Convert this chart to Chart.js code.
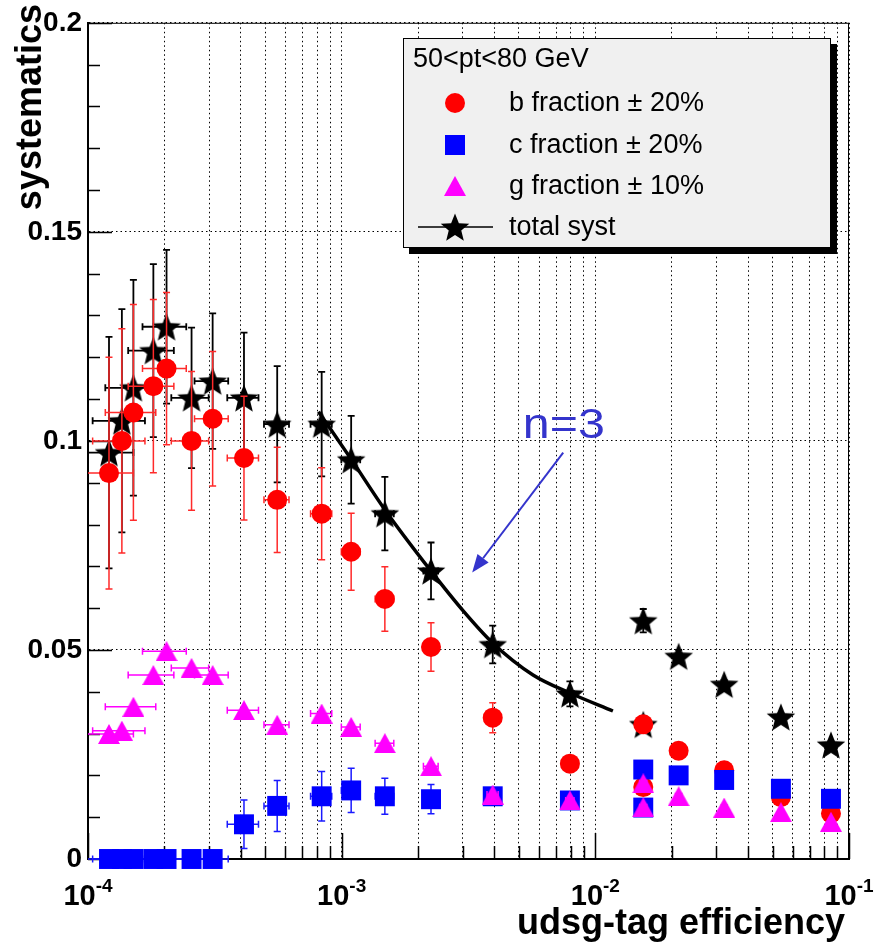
<!DOCTYPE html>
<html>
<head>
<meta charset="utf-8">
<script src="https://cdn.jsdelivr.net/npm/chart.js@4.4.0/dist/chart.umd.min.js"></script>
<style>
  html, body { margin: 0; padding: 0; background: #fff; }
  #wrap { width: 876px; height: 946px; }
</style>
</head>
<body>
<div id="wrap"><canvas id="systChart" width="876" height="946"></canvas></div>
<script>
// udsg-tag efficiency bins: centres and half widths
const effX    = [1.21e-4, 1.36e-4, 1.51e-4, 1.81e-4, 2.04e-4, 2.56e-4, 3.10e-4, 4.12e-4, 5.57e-4, 8.34e-4,
                 1.09e-3, 1.48e-3, 2.25e-3, 3.94e-3, 7.94e-3, 1.545e-2, 1.545e-2, 2.13e-2, 3.22e-2, 5.39e-2, 8.49e-2];
const effXErr = [0.30e-4, 0.317e-4, 0.34e-4, 0.37e-4, 0.40e-4, 0.43e-4, 0.47e-4, 0.58e-4, 0.63e-4, 0.80e-4,
                 0.93e-4, 1.25e-4, 1.5e-4, 2e-4, 3e-4, 5e-4, 5e-4, 6e-4, 8e-4, 1e-3, 1.5e-3];

// b fraction +-20%
const bFracSyst = [0.0923, 0.1000, 0.1068, 0.1131, 0.1173, 0.1000, 0.1053, 0.0959, 0.0859, 0.0826,
                   0.0735, 0.0622, 0.0507, 0.0338, 0.0228, 0.0322, 0.0172, 0.0259, 0.0212, 0.0148, 0.0109];
const bFracErr  = [0.0277, 0.0268, 0.0258, 0.0207, 0.0182, 0.0166, 0.0161, 0.0148, 0.0126, 0.0110,
                   0.0092, 0.0077, 0.0058, 0.0036, 0.0010, 0.0008, 0.0008, 0.0008, 0.0006, 0.0005, 0.0005];

// c fraction +-20%
const cFracSyst = [0, 0, 0, 0, 0, 0, 0, 0.0083, 0.0127, 0.0150,
                   0.0164, 0.0150, 0.0143, 0.0150, 0.0140, 0.0214, 0.0123, 0.0200, 0.0189, 0.0168, 0.0144];
const cFracErr  = [0, 0, 0, 0, 0, 0, 0, 0.0058, 0.0061, 0.0059,
                   0.0053, 0.0043, 0.0035, 0.0015, 0.0008, 0.0008, 0.0006, 0.0006, 0.0005, 0.0005, 0.0004];

// g fraction +-10%
const gFracSyst = [0.0299, 0.0307, 0.0364, 0.0440, 0.0497, 0.0457, 0.0440, 0.0356, 0.0321, 0.0348,
                   0.0316, 0.0277, 0.0222, 0.0154, 0.0140, 0.0181, 0.0124, 0.0150, 0.0123, 0.0112, 0.0089];

// total systematics
const totalSyst = [0.0972, 0.1048, 0.1127, 0.1216, 0.1273, 0.1103, 0.1143, 0.1103, 0.1040, 0.1040,
                   0.0955, 0.0826, 0.0689, 0.0513, 0.0395, 0.0570, 0.0322, 0.0485, 0.0418, 0.0340, 0.0273];
const totalErr  = [0.0277, 0.0267, 0.0258, 0.0207, 0.0184, 0.0168, 0.0162, 0.0156, 0.0139, 0.0125,
                   0.0105, 0.0088, 0.0068, 0.0045, 0.0030, 0.0028, 0.0010, 0.0015, 0.0010, 0.0008, 0.0008];

// n=3 fit to the total systematics
const fitX = [8.10e-4, 1.088e-3, 1.482e-3, 2.249e-3, 3.008e-3, 3.948e-3, 5.68e-3, 7.94e-3, 1.173e-2];
const fitY = [0.1070, 0.0957, 0.0835, 0.0689, 0.0594, 0.0516, 0.0440, 0.0397, 0.0354];

// axis ticks
const yMajor = [0, 0.05, 0.1, 0.15, 0.2];
const yMinorStep = 0.01;
const xDecades = [1e-4, 1e-3, 1e-2, 1e-1];
const xDecadeExp = ['-4', '-3', '-2', '-1'];
const xSubdiv = [2, 3, 4, 5, 6, 7, 8, 9];

const FONT = "'Liberation Sans', Arial, Helvetica, sans-serif";
const BLUE_TXT = '#3434cc';

// marker bitmaps used as point styles
function markerImage(w, h, paint) {
    const c = document.createElement('canvas');
    c.width = w; c.height = h;
    paint(c.getContext('2d'), w, h);
    return c;
}
const starMarker = markerImage(32, 32, (g, w, h) => {
    const R = 15, r = 6.6;
    g.fillStyle = '#000';
    g.beginPath();
    for (let k = 0; k < 10; k++) {
        const rad = k % 2 ? r : R;
        const a = -Math.PI / 2 + k * Math.PI / 5;
        g.lineTo(w / 2 + rad * Math.cos(a), h / 2 + 1.5 + rad * Math.sin(a));
    }
    g.closePath();
    g.fill();
});
const triMarker = markerImage(22, 20, (g, w, h) => {
    g.fillStyle = '#ff00ff';
    g.beginPath();
    g.moveTo(w / 2, 0);
    g.lineTo(w, h);
    g.lineTo(0, h);
    g.closePath();
    g.fill();
});

const pts = ys => effX.map((x, i) => ({ x: x, y: ys[i] }));

// error bars are drawn just before each dataset's markers
const errorBars = {
    id: 'errorBars',
    beforeDatasetDraw(chart, args) {
        const ds = chart.data.datasets[args.index];
        if (!ds.errX && !ds.errY) return;
        const { ctx, scales: { x, y } } = chart;
        const cap = 3.5;
        ctx.save();
        ctx.strokeStyle = ds.errColor;
        ctx.lineWidth = ds.errWidth || 1.5;
        ds.data.forEach((p, i) => {
            const px = x.getPixelForValue(p.x), py = y.getPixelForValue(p.y);
            ctx.beginPath();
            if (ds.errY && ds.errY[i] > 0) {
                const y0 = y.getPixelForValue(p.y - ds.errY[i]);
                const y1 = y.getPixelForValue(p.y + ds.errY[i]);
                ctx.moveTo(px, y0); ctx.lineTo(px, y1);
                ctx.moveTo(px - cap, y0); ctx.lineTo(px + cap, y0);
                ctx.moveTo(px - cap, y1); ctx.lineTo(px + cap, y1);
            }
            if (ds.errX && ds.errX[i] > 0) {
                const lo = Math.max(p.x - ds.errX[i], x.min);
                const x0 = x.getPixelForValue(lo);
                const x1 = x.getPixelForValue(p.x + ds.errX[i]);
                ctx.moveTo(x0, py); ctx.lineTo(x1, py);
                if (lo > x.min) { ctx.moveTo(x0, py - cap); ctx.lineTo(x0, py + cap); }
                ctx.moveTo(x1, py - cap); ctx.lineTo(x1, py + cap);
            }
            ctx.stroke();
        });
        ctx.restore();
    }
};

// frame, inward ticks, decade labels, titles, legend and the fit note
const rootFrame = {
    id: 'rootFrame',
    beforeDatasetsDraw(chart) {
        const { ctx, chartArea: a, scales: { x, y } } = chart;
        ctx.save();
        ctx.strokeStyle = '#000';
        ctx.lineWidth = 1;
        ctx.beginPath();
        ctx.moveTo(a.left, a.top + 0.5); ctx.lineTo(a.right, a.top + 0.5);
        ctx.moveTo(a.right - 0.5, a.top); ctx.lineTo(a.right - 0.5, a.bottom);
        ctx.stroke();

        ctx.lineWidth = 1.5;
        ctx.beginPath();
        for (let v = 0; v <= 0.2001; v += yMinorStep) {
            const py = Math.round(y.getPixelForValue(v)) + 0.5;
            const major = yMajor.some(m => Math.abs(m - v) < 1e-6);
            ctx.moveTo(a.left, py); ctx.lineTo(a.left + (major ? 24 : 12), py);
        }
        xDecades.forEach((d, i) => {
            const px = Math.round(x.getPixelForValue(d)) + 0.5;
            ctx.moveTo(px, a.bottom); ctx.lineTo(px, a.bottom - 26);
            if (i < xDecades.length - 1) {
                xSubdiv.forEach(m => {
                    const qx = Math.round(x.getPixelForValue(d * m)) + 0.5;
                    ctx.moveTo(qx, a.bottom); ctx.lineTo(qx, a.bottom - 13);
                });
            }
        });
        ctx.stroke();
        ctx.restore();
    },
    afterDraw(chart) {
        const { ctx, scales: { x, y } } = chart;
        ctx.save();
        ctx.fillStyle = '#000';

        // decade labels 10^n
        xDecades.forEach((d, i) => {
            ctx.font = 'bold 29px ' + FONT;
            const wb = ctx.measureText('10').width;
            ctx.font = 'bold 19px ' + FONT;
            const we = ctx.measureText(xDecadeExp[i]).width;
            const x0 = x.getPixelForValue(d) - (wb + we) / 2;
            ctx.textAlign = 'left';
            ctx.textBaseline = 'alphabetic';
            ctx.font = 'bold 29px ' + FONT;
            ctx.fillText('10', x0, 905);
            ctx.font = 'bold 19px ' + FONT;
            ctx.fillText(xDecadeExp[i], x0 + wb, 892);
        });

        // axis titles
        ctx.font = 'bold 36px ' + FONT;
        ctx.textAlign = 'right';
        ctx.fillText('udsg-tag efficiency', 845, 934);
        ctx.save();
        ctx.translate(41, 4);
        ctx.rotate(-Math.PI / 2);
        ctx.font = 'bold 36px ' + FONT;
        ctx.textAlign = 'right';
        ctx.fillText('systematics', 0, 0);
        ctx.restore();

        // fit annotation
        ctx.fillStyle = BLUE_TXT;
        ctx.strokeStyle = BLUE_TXT;
        ctx.save();
        ctx.translate(x.getPixelForValue(5.18e-3), y.getPixelForValue(0.1008));
        ctx.scale(1.15, 1);
        ctx.font = '42px ' + FONT;
        ctx.textAlign = 'left';
        ctx.fillText('n=3', 0, 0);
        ctx.restore();
        const ax0 = x.getPixelForValue(7.47e-3), ay0 = y.getPixelForValue(0.0972);
        const ax1 = x.getPixelForValue(3.27e-3), ay1 = y.getPixelForValue(0.0685);
        const ang = Math.atan2(ay1 - ay0, ax1 - ax0);
        const hl = 18, hw = 7;
        ctx.lineWidth = 2;
        ctx.beginPath();
        ctx.moveTo(ax0, ay0);
        ctx.lineTo(ax1 - hl * Math.cos(ang), ay1 - hl * Math.sin(ang));
        ctx.stroke();
        ctx.beginPath();
        ctx.moveTo(ax1, ay1);
        ctx.lineTo(ax1 - hl * Math.cos(ang) + hw * Math.sin(ang), ay1 - hl * Math.sin(ang) - hw * Math.cos(ang));
        ctx.lineTo(ax1 - hl * Math.cos(ang) - hw * Math.sin(ang), ay1 - hl * Math.sin(ang) + hw * Math.cos(ang));
        ctx.closePath();
        ctx.fill();

        // legend box with shadow
        const L = 403, T = 38, R = 831, B = 248;
        ctx.fillStyle = '#000';
        ctx.fillRect(L + 6, T + 6, R - L, B - T);
        ctx.fillStyle = '#f0f0f0';
        ctx.fillRect(L, T, R - L, B - T);
        ctx.strokeStyle = '#000';
        ctx.lineWidth = 1;
        ctx.strokeRect(L + 0.5, T + 0.5, R - L - 1, B - T - 1);

        ctx.fillStyle = '#000';
        ctx.font = '27px ' + FONT;
        ctx.textBaseline = 'middle';
        ctx.textAlign = 'left';
        ctx.fillText('50<pt<80 GeV', 413, 60);

        const mx = 455, tx = 509;
        const rows = [103, 145, 186, 227];
        ctx.fillStyle = '#ff0000';
        ctx.beginPath(); ctx.arc(mx, rows[0], 10, 0, 2 * Math.PI); ctx.fill();
        ctx.fillStyle = '#0000ff';
        ctx.fillRect(mx - 10, rows[1] - 10, 20, 20);
        ctx.drawImage(triMarker, mx - triMarker.width / 2, rows[2] - triMarker.height / 2);
        ctx.strokeStyle = '#000';
        ctx.lineWidth = 1.5;
        ctx.beginPath(); ctx.moveTo(418, rows[3]); ctx.lineTo(493, rows[3]); ctx.stroke();
        ctx.drawImage(starMarker, mx - starMarker.width / 2, rows[3] - starMarker.height / 2);

        ctx.fillStyle = '#000';
        const labels = chart.data.datasets.filter(d => d.legendRow !== undefined)
            .sort((p, q) => p.legendRow - q.legendRow);
        labels.forEach(d => ctx.fillText(d.label, tx, rows[d.legendRow] + 1));
        ctx.restore();
    }
};

const xGridTicks = [];
xDecades.forEach((d, i) => {
    xGridTicks.push({ value: d });
    if (i < xDecades.length - 1) xSubdiv.forEach(m => xGridTicks.push({ value: d * m }));
});

const gridStyle = { color: '#000', lineWidth: 1, drawTicks: false };
const gridBorder = { display: true, color: '#000', width: 2, dash: [1.5, 3] };

new Chart(document.getElementById('systChart'), {
    type: 'scatter',
    data: {
        datasets: [
            {
                label: 'g fraction \u00b1 10%', legendRow: 2, order: 0,
                data: pts(gFracSyst), pointStyle: triMarker, pointRadius: 10,
                errX: effXErr, errColor: '#ff00ff', clip: false
            },
            {
                label: 'c fraction \u00b1 20%', legendRow: 1, order: 1,
                data: pts(cFracSyst), pointStyle: 'rect', pointRadius: 14.1,
                backgroundColor: '#0000ff', borderWidth: 0,
                errX: effXErr, errY: cFracErr, errColor: '#1a1aff', clip: false
            },
            {
                label: 'b fraction \u00b1 20%', legendRow: 0, order: 2,
                data: pts(bFracSyst), pointStyle: 'circle', pointRadius: 10,
                backgroundColor: '#ff0000', borderWidth: 0,
                errX: effXErr, errY: bFracErr, errColor: '#ff2a2a', clip: false
            },
            {
                label: 'n=3 fit', type: 'line', order: 3,
                data: fitX.map((x, i) => ({ x: x, y: fitY[i] })),
                borderColor: '#000', borderWidth: 3.5, pointRadius: 0,
                cubicInterpolationMode: 'monotone', fill: false, clip: false
            },
            {
                label: 'total syst', legendRow: 3, order: 4,
                data: pts(totalSyst), pointStyle: starMarker, pointRadius: 15,
                errX: effXErr, errY: totalErr, errColor: '#000', errWidth: 1.8, clip: false
            }
        ]
    },
    options: {
        responsive: false,
        animation: false,
        devicePixelRatio: 1,
        layout: { padding: { top: 17, right: 27, left: 0, bottom: 0 } },
        plugins: { legend: { display: false }, tooltip: { enabled: false } },
        scales: {
            x: {
                type: 'logarithmic', min: 1e-4, max: 1e-1,
                afterBuildTicks: s => { s.ticks = xGridTicks.map(t => ({ value: t.value })); },
                afterFit: s => { s.height = 87; },
                ticks: { display: false },
                grid: gridStyle,
                border: gridBorder
            },
            y: {
                min: 0, max: 0.2,
                afterBuildTicks: s => { s.ticks = yMajor.map(v => ({ value: v })); },
                afterFit: s => { s.width = 88; },
                ticks: {
                    color: '#000', padding: 6,
                    font: { family: FONT, size: 28, weight: 'bold' },
                    callback: v => String(+v.toFixed(2))
                },
                grid: gridStyle,
                border: gridBorder
            }
        }
    },
    plugins: [errorBars, rootFrame]
});
</script>
</body>
</html>
